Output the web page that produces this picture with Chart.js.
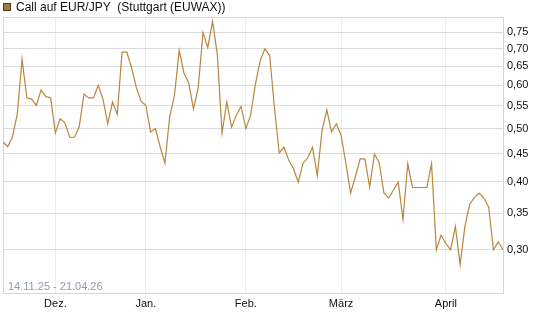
<!DOCTYPE html>
<html>
<head>
<meta charset="utf-8">
<script src="https://cdn.jsdelivr.net/npm/chart.js@4/dist/chart.umd.min.js"></script>
<style>
  html, body { margin:0; padding:0; background:#fff; }
  #wrap { width:545px; height:327px; position:relative; }
</style>
</head>
<body>
<div id="wrap"><canvas id="c" width="545" height="327"></canvas></div>
<script>
// trading days, 14.11.25 - 21.04.26
const dates = [
  '14.11.','17.11.','18.11.','19.11.','20.11.','21.11.','24.11.','25.11.','26.11.','27.11.','28.11.',
  '01.12.','02.12.','03.12.','04.12.','05.12.','08.12.','09.12.','10.12.','11.12.','12.12.',
  '15.12.','16.12.','17.12.','18.12.','19.12.','22.12.','23.12.','29.12.','30.12.',
  '02.01.','05.01.','06.01.','07.01.','08.01.','09.01.','12.01.','13.01.','14.01.','15.01.','16.01.',
  '19.01.','20.01.','21.01.','22.01.','23.01.','26.01.','27.01.','28.01.','29.01.','30.01.',
  '02.02.','03.02.','04.02.','05.02.','06.02.','09.02.','10.02.','11.02.','12.02.','13.02.',
  '16.02.','17.02.','18.02.','19.02.','20.02.','23.02.','24.02.','25.02.','26.02.','27.02.',
  '02.03.','03.03.','04.03.','05.03.','06.03.','09.03.','10.03.','11.03.','12.03.','13.03.',
  '16.03.','17.03.','18.03.','19.03.','20.03.','23.03.','24.03.','25.03.','26.03.','27.03.','30.03.','31.03.',
  '01.04.','02.04.','07.04.','08.04.','09.04.','10.04.','13.04.','14.04.','15.04.','16.04.','17.04.','20.04.','21.04.'
];

const prices = [
  0.472,0.463,0.483,0.532,0.670,0.569,0.566,0.551,0.588,0.572,0.569,
  0.491,0.521,0.512,0.482,0.482,0.503,0.578,0.569,0.569,0.600,
  0.566,0.510,0.559,0.531,0.690,0.690,0.646,0.594,0.561,
  0.551,0.493,0.500,0.463,0.432,0.525,0.574,0.695,0.632,0.606,0.543,
  0.594,0.750,0.703,0.785,0.685,0.491,0.559,0.503,0.529,0.549,
  0.500,0.529,0.602,0.665,0.700,0.680,0.547,0.451,0.462,0.438,
  0.422,0.399,0.432,0.442,0.462,0.410,0.496,0.541,0.493,0.510,
  0.486,0.432,0.381,0.408,0.440,0.440,0.391,0.449,0.433,0.381,
  0.373,0.386,0.399,0.341,0.431,0.390,0.390,0.390,0.390,0.431,0.300,0.319,
  0.308,0.300,0.331,0.282,0.331,0.363,0.374,0.381,0.373,0.359,0.300,0.310,0.300
];

const monthTicks = [11, 30, 51, 71, 93];
const monthLabels = ['Dez.', 'Jan.', 'Feb.', 'März', 'April'];
const yTicks = [0.30, 0.35, 0.40, 0.45, 0.50, 0.55, 0.60, 0.65, 0.70, 0.75];

const seriesName = 'Call auf EUR/JPY  (Stuttgart (EUWAX))';
const rangeText = '14.11.25 - 21.04.26';
const lineColor = '#b8863f';

const extras = {
  id: 'extras',
  beforeDatasetsDraw(chart) {
    const {ctx, chartArea: a} = chart;
    ctx.save();
    ctx.strokeStyle = '#d6d6d6';
    ctx.lineWidth = 1;
    ctx.strokeRect(Math.round(a.left) + 0.5, Math.round(a.top) + 0.5,
      Math.round(a.right - a.left), Math.round(a.bottom - a.top));
    ctx.fillStyle = '#8e9bb0';
    ctx.font = '11px "Liberation Sans", Arial, sans-serif';
    ctx.textBaseline = 'alphabetic';
    ctx.fillText(rangeText, a.left + 5, a.bottom - 3);
    ctx.restore();
  },
  afterDraw(chart) {
    const ctx = chart.ctx;
    ctx.save();
    ctx.fillStyle = '#a57a3e';
    ctx.fillRect(3, 3, 8, 8);
    ctx.strokeStyle = '#4a3a22';
    ctx.lineWidth = 1;
    ctx.strokeRect(3.5, 3.5, 7, 7);
    ctx.fillStyle = '#111';
    ctx.font = '12px "Liberation Sans", Arial, sans-serif';
    ctx.textBaseline = 'middle';
    ctx.fillText(seriesName, 16, 7.5);
    ctx.restore();
  }
};

new Chart(document.getElementById('c'), {
  type: 'line',
  data: {
    labels: dates,
    datasets: [{
      label: seriesName,
      data: prices,
      borderColor: lineColor,
      borderWidth: 1.2,
      pointRadius: 0,
      tension: 0,
      fill: false
    }]
  },
  options: {
    responsive: false,
    animation: false,
    layout: { padding: { left: 3, top: 17, right: 0, bottom: 0 } },
    plugins: { legend: { display: false }, tooltip: { enabled: false } },
    scales: {
      x: {
        type: 'category',
        offset: false,
        afterBuildTicks: (axis) => { axis.ticks = monthTicks.map(v => ({ value: v })); },
        afterFit: (axis) => { axis.height = 34; },
        ticks: {
          autoSkip: false,
          maxRotation: 0,
          padding: 4,
          color: '#111',
          font: { size: 11, family: '"Liberation Sans", Arial, sans-serif' },
          callback: (v) => monthLabels[monthTicks.indexOf(v)] || ''
        },
        grid: { color: '#ececec', drawTicks: false },
        border: { color: '#d6d6d6' }
      },
      y: {
        type: 'logarithmic',
        position: 'right',
        min: 0.25,
        max: 0.8,
        afterBuildTicks: (axis) => { axis.ticks = yTicks.map(v => ({ value: v })); },
        afterFit: (axis) => { axis.width = 42; },
        ticks: {
          padding: 4,
          color: '#111',
          font: { size: 11, family: '"Liberation Sans", Arial, sans-serif' },
          callback: (v) => v.toFixed(2).replace('.', ',')
        },
        grid: { color: '#dadada', drawTicks: false },
        border: { color: '#d6d6d6' }
      }
    }
  },
  plugins: [extras]
});
</script>
</body>
</html>
